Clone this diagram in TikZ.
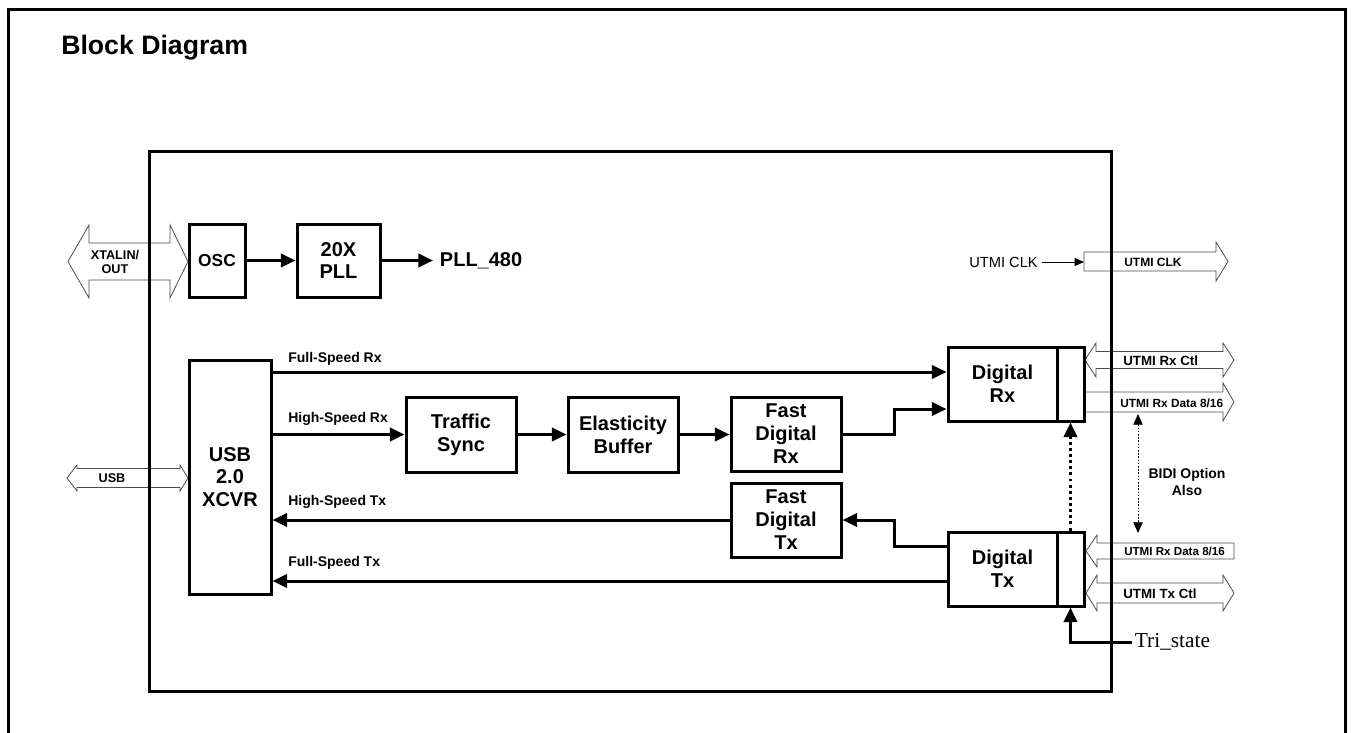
\documentclass[tikz,border=0pt]{standalone}
\usepackage{fontspec}
\setmainfont{Liberation Sans}
\newfontfamily\trifont{Liberation Serif}
\usetikzlibrary{arrows.meta}
\begin{document}
\begin{tikzpicture}[x=0.75pt,y=-0.75pt,
  blk/.style={draw, line width=2.25pt, inner sep=0pt, align=center,
    font=\bfseries\fontsize{15}{17.25}\selectfont},
  arr/.style={line width=2.25pt, -{Triangle[length=11pt,width=10pt]}},
  dotarr/.style={line width=2.25pt, dash pattern=on 2.2pt off 2.4pt, -{Triangle[length=11pt,width=10pt]}},
  thinarr/.style={line width=0.6pt, -{Triangle[length=7pt,width=6pt]}},
  bidiarr/.style={line width=0.6pt, dash pattern=on 1.2pt off 1.2pt, {Triangle[length=8pt,width=7pt]}-{Triangle[length=8pt,width=7pt]}},
  hollow/.style={draw=black!70, line width=0.6pt, fill=white, line join=miter},
  sig/.style={font=\bfseries\fontsize{10.5}{12}\selectfont, inner sep=0pt, anchor=west},
  port/.style={font=\bfseries\fontsize{#1}{11}\selectfont, inner sep=0pt, anchor=west},
  port/.default=10
]
\useasboundingbox (0,0) rectangle (1352,732);

% outer frame (open at the bottom)
\draw[line width=2.25pt] (8.5,740) -- (8.5,9) -- (1345,9) -- (1345,740);
\node[anchor=base west, inner sep=0pt, font=\bfseries\fontsize{20}{24}\selectfont] (title) at (61,54) {Block Diagram};

% hollow arrows (drawn under the chip frame)
\draw[hollow] (68,261.5) -- (89,225) -- (89,243) -- (170,243) -- (170,225) -- (188,261.5)
  -- (170,298) -- (170,280) -- (89,280) -- (89,298) -- cycle;
\draw[hollow] (67,478) -- (77,465) -- (77,468.5) -- (180,468.5) -- (180,465) -- (188,478)
  -- (180,491) -- (180,487.5) -- (77,487.5) -- (77,491) -- cycle;
\draw[hollow] (1084,252) -- (1216,252) -- (1216,242) -- (1228,261.5) -- (1216,281) -- (1216,271) -- (1084,271) -- cycle;
\draw[hollow] (1085,360) -- (1096,343) -- (1096,351.5) -- (1223,351.5) -- (1223,343) -- (1234,360)
  -- (1223,377) -- (1223,368.5) -- (1096,368.5) -- (1096,377) -- cycle;
\draw[hollow] (1085,392) -- (1223,392) -- (1223,383) -- (1234,402) -- (1223,421) -- (1223,412) -- (1085,412);
\draw[hollow] (1086,551) -- (1097,535) -- (1097,543) -- (1234,543) -- (1234,559) -- (1097,559) -- (1097,567) -- cycle;
\draw[hollow] (1086,593) -- (1097,575) -- (1097,583) -- (1223,583) -- (1223,575) -- (1234,593)
  -- (1223,611) -- (1223,603) -- (1097,603) -- (1097,611) -- cycle;

% chip frame
\draw[line width=2.25pt] (149,151) rectangle (1111,691);

% port texts
\node[align=center, inner sep=0pt, font=\bfseries\fontsize{9.5}{10.5}\selectfont] (xtal) at (115,262) {XTALIN/\\OUT};
\node[inner sep=0pt, font=\bfseries\fontsize{9.5}{11}\selectfont] (usbport) at (112,478) {USB};
\node[port=9] (pclk) at (1124,262) {UTMI CLK};
\node[port=10] (prxctl) at (1123,361) {UTMI Rx Ctl};
\node[port=8.9] (prxdata) at (1120,403) {UTMI Rx Data 8/16};
\node[port=8.7] (ptxdata) at (1124,551) {UTMI Rx Data 8/16};
\node[port=10] (ptxctl) at (1123,594) {UTMI Tx Ctl};

% blocks
\node[blk, minimum width=42pt, minimum height=54.75pt, font=\bfseries\fontsize{13}{15}\selectfont] (osc) at (217,260.5) {OSC};
\node[blk, minimum width=62.25pt, minimum height=54.75pt, font=\bfseries\fontsize{15}{16.5}\selectfont] (pll) at (338.5,260.5) {20X\\PLL};
\node[anchor=west, inner sep=5pt, font=\bfseries\fontsize{15}{17}\selectfont] (pll480) at (433,260.5) {PLL\_480};
\node[blk, minimum width=61.5pt, minimum height=175.5pt, font=\bfseries\fontsize{15}{16.9}\selectfont] (usb) at (230,477) {USB\\2.0\\XCVR};
\node[blk, minimum width=82.5pt, minimum height=56.25pt] (traffic) at (461,434.5) {Traffic\\Sync};
\node[blk, minimum width=82.5pt, minimum height=56.25pt] (elastic) at (623,434.5) {Elasticity\\Buffer};
\node[blk, minimum width=82.5pt, minimum height=55.5pt] (fastrx) at (786,434) {Fast\\Digital\\Rx};
\node[blk, minimum width=82.5pt, minimum height=55.5pt] (fasttx) at (786,520) {Fast\\Digital\\Tx};
\node[blk, minimum width=81.75pt, minimum height=55.5pt] (drx) at (1002.5,384) {Digital\\Rx};
\node[blk, minimum width=20.25pt, minimum height=55.5pt] (drxc) at (1070.5,384) {};
\node[blk, minimum width=81.75pt, minimum height=55.5pt] (dtx) at (1002.5,569) {Digital\\Tx};
\node[blk, minimum width=20.25pt, minimum height=55.5pt] (dtxc) at (1070.5,569) {};

% signal labels
\node[sig] (lfsrx) at (288,359) {Full-Speed Rx};
\node[sig] (lhsrx) at (288,419) {High-Speed Rx};
\node[sig] (lhstx) at (288,502) {High-Speed Tx};
\node[sig] (lfstx) at (288,563) {Full-Speed Tx};
\node[anchor=east, inner sep=0pt, font=\fontsize{11}{13}\selectfont] (clklbl) at (1038,262) {UTMI CLK};
\node[align=center, inner sep=0pt, font=\bfseries\fontsize{10.5}{12.75}\selectfont] (bidi) at (1187,482) {BIDI Option\\Also};
\node[anchor=west, inner sep=2pt, font=\trifont\fontsize{16}{18}\selectfont] (tri) at (1132,642) {Tri\_state};

% helper coordinates
\coordinate (yfsrx) at (0,372);
\coordinate (jx) at (894,0);
\coordinate (y409) at (0,409);
\coordinate (y546) at (0,546);
\coordinate (y581) at (0,581);
\coordinate (clkin) at (1084,262);
\coordinate (b1) at (1138,414);
\coordinate (b2) at (1138,533);

% connectors
\draw[arr] (osc) -- (pll);
\draw[arr] (pll) -- (pll480);
\draw[arr] (usb.east |- yfsrx) -- (drx.west |- yfsrx);
\draw[arr] (usb.east |- traffic.west) -- (traffic.west);
\draw[arr] (traffic) -- (elastic);
\draw[arr] (elastic.east) -- (elastic.east -| fastrx.west);
\draw[arr] (fastrx.east) -| (jx |- y409) -- (drx.west |- y409);
\draw[arr] (dtx.west |- y546) -| (jx |- fasttx.east) -- (fasttx.east);
\draw[arr] (fasttx.west) -- (usb.east |- fasttx.west);
\draw[arr] (dtx.west |- y581) -- (usb.east |- y581);
\draw[dotarr] (dtxc.north) -- (drxc.south);
\draw[arr] (tri.west) -| (dtxc.south);
\draw[thinarr] (clklbl.east) ++(4,0) -- (clkin);
\draw[bidiarr] (b1) -- (b2);
\end{tikzpicture}
\end{document}
